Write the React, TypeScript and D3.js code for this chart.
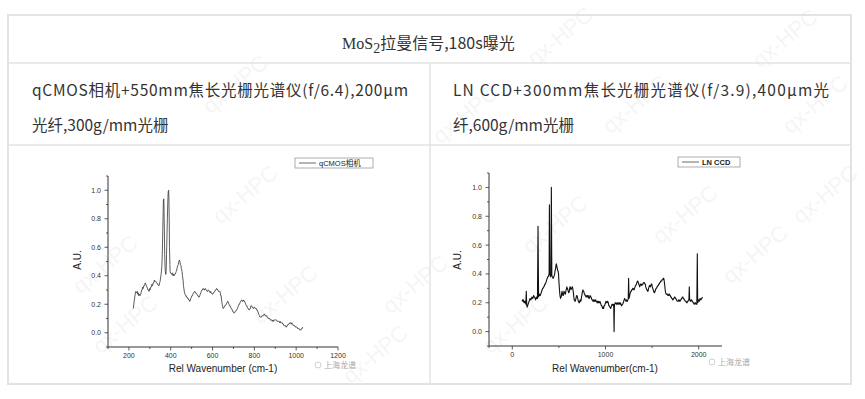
import React from 'react';
import * as d3 from 'd3';

// ---- Data ----
const qcmosX = [221,226,230,233,237,240,242,245,247,250,253,256,258,261,263,266,268,271,275,278,281,284,286,289,291,294,296,299,301,304,307,310,313,316,319,322,324,327,329,332,334,337,339,342,344,347,349,352,354,356,358,360,362,364,365,367,368,370,371,373,374,376,377,379,380,382,384,386,388,390,391,393,394,396,397,399,401,404,406,409,411,414,416,419,421,424,426,429,431,434,436,439,441,444,446,449,451,454,456,459,461,464,466,469,471,474,476,479,481,484,486,489,491,494,496,499,501,504,506,509,511,514,516,519,521,524,526,529,531,534,536,539,541,544,546,549,551,554,556,559,561,564,566,569,571,574,576,579,581,584,586,589,591,594,596,599,601,604,606,609,611,614,616,619,621,624,626,629,631,634,636,639,641,644,646,649,651,654,656,659,661,664,666,669,671,674,676,679,681,684,686,689,691,694,696,699,701,704,706,709,711,714,716,719,721,724,726,729,731,734,736,739,741,744,746,749,751,754,756,759,761,764,766,769,771,774,776,779,781,784,786,789,791,794,796,799,801,804,806,809,811,814,816,819,821,824,826,829,831,834,836,839,841,844,846,849,851,854,856,859,861,864,866,869,871,874,876,879,881,884,886,889,891,894,896,899,901,904,906,909,911,914,916,919,921,924,926,929,931,934,936,939,941,944,946,949,951,954,956,959,961,964,966,969,971,974,976,979,981,984,986,989,991,994,996,999,1001,1004,1006,1009,1011,1014,1016,1019,1021,1024,1026,1029,1031,1034,1036,1039,1041,1044,1046];
const qcmosY = [0.17,0.23,0.27,0.29,0.28,0.29,0.27,0.28,0.26,0.27,0.26,0.27,0.28,0.30,0.30,0.32,0.31,0.33,0.33,0.35,0.34,0.33,0.32,0.31,0.30,0.30,0.29,0.31,0.30,0.32,0.32,0.34,0.33,0.35,0.35,0.37,0.36,0.36,0.36,0.35,0.35,0.34,0.34,0.33,0.33,0.35,0.36,0.39,0.41,0.44,0.47,0.58,0.72,0.86,0.93,0.94,0.85,0.68,0.55,0.46,0.43,0.41,0.41,0.47,0.55,0.68,0.80,0.92,0.99,1.00,0.96,0.78,0.60,0.48,0.43,0.42,0.42,0.41,0.41,0.42,0.40,0.41,0.40,0.41,0.41,0.42,0.43,0.44,0.46,0.47,0.48,0.50,0.51,0.50,0.48,0.47,0.45,0.43,0.40,0.37,0.33,0.30,0.28,0.27,0.26,0.26,0.25,0.25,0.24,0.24,0.23,0.23,0.22,0.23,0.24,0.25,0.26,0.26,0.27,0.28,0.28,0.29,0.29,0.28,0.28,0.27,0.27,0.26,0.26,0.25,0.25,0.26,0.27,0.28,0.29,0.30,0.30,0.31,0.31,0.30,0.30,0.31,0.31,0.30,0.30,0.29,0.29,0.30,0.30,0.29,0.29,0.28,0.29,0.28,0.28,0.27,0.27,0.28,0.28,0.29,0.29,0.30,0.30,0.31,0.31,0.30,0.30,0.29,0.29,0.29,0.29,0.26,0.26,0.22,0.20,0.18,0.17,0.18,0.18,0.19,0.19,0.20,0.20,0.21,0.22,0.22,0.21,0.20,0.19,0.19,0.18,0.17,0.17,0.16,0.15,0.15,0.14,0.14,0.14,0.15,0.15,0.16,0.16,0.17,0.18,0.19,0.20,0.20,0.21,0.22,0.22,0.23,0.23,0.22,0.22,0.23,0.22,0.22,0.21,0.20,0.19,0.19,0.18,0.17,0.17,0.16,0.16,0.17,0.17,0.19,0.19,0.18,0.18,0.17,0.17,0.18,0.18,0.17,0.17,0.17,0.16,0.16,0.15,0.14,0.13,0.12,0.11,0.11,0.11,0.11,0.12,0.12,0.12,0.12,0.13,0.13,0.12,0.12,0.12,0.12,0.11,0.11,0.10,0.10,0.10,0.10,0.09,0.09,0.09,0.09,0.08,0.09,0.08,0.09,0.09,0.09,0.09,0.09,0.09,0.08,0.08,0.08,0.08,0.08,0.07,0.08,0.07,0.07,0.07,0.07,0.06,0.06,0.05,0.05,0.05,0.05,0.04,0.04,0.05,0.05,0.06,0.06,0.06,0.07,0.07,0.07,0.06,0.07,0.06,0.06,0.05,0.05,0.05,0.05,0.04,0.04,0.04,0.04,0.03,0.03,0.03,0.03,0.02,0.02,0.02,0.02,0.03,0.03,0.04];

const lnccdX = [104,110,115,120,125,130,135,140,145,150,155,160,165,170,175,180,185,190,195,200,205,210,215,220,225,230,235,240,245,250,255,260,265,270,276,282,286,290,295,300,305,310,315,320,325,330,335,340,345,350,355,360,365,370,375,380,385,390,395,398,402,406,410,414,419,424,428,432,436,440,445,450,455,458,462,465,469,472,476,478,482,485,489,492,496,500,505,510,514,518,522,525,529,533,537,540,544,548,552,555,559,563,567,570,574,578,582,585,589,592,596,600,604,608,612,615,619,622,626,630,634,638,642,645,649,653,657,660,664,668,672,675,679,683,687,690,694,698,702,705,709,712,716,720,724,728,732,735,739,742,746,750,754,758,762,766,770,774,778,782,786,790,794,798,802,806,810,814,818,822,826,830,835,840,845,850,855,860,865,870,875,880,885,890,895,900,905,910,915,920,925,930,935,940,945,950,955,960,965,970,975,980,985,990,995,1000,1005,1010,1015,1020,1025,1030,1035,1040,1045,1050,1055,1060,1065,1070,1075,1080,1084,1088,1092,1096,1100,1105,1110,1115,1120,1125,1130,1135,1140,1145,1150,1155,1160,1165,1170,1175,1180,1185,1190,1195,1200,1205,1210,1215,1220,1225,1230,1235,1240,1244,1248,1252,1257,1262,1267,1272,1277,1282,1287,1292,1297,1302,1307,1312,1317,1322,1327,1332,1337,1342,1347,1352,1357,1362,1367,1372,1377,1382,1387,1392,1397,1402,1407,1412,1417,1422,1427,1432,1437,1442,1447,1452,1457,1462,1467,1472,1477,1482,1487,1492,1497,1502,1507,1512,1517,1522,1527,1532,1537,1542,1547,1552,1557,1562,1567,1572,1577,1582,1587,1592,1597,1602,1607,1612,1616,1620,1624,1628,1632,1636,1640,1645,1650,1655,1660,1665,1670,1675,1680,1685,1690,1695,1700,1705,1710,1715,1720,1725,1730,1735,1740,1745,1750,1755,1760,1765,1770,1775,1780,1785,1790,1795,1800,1805,1810,1815,1820,1825,1830,1835,1840,1845,1850,1855,1860,1865,1870,1875,1880,1885,1890,1895,1899,1903,1907,1910,1915,1920,1925,1930,1935,1940,1945,1950,1955,1960,1965,1970,1975,1980,1985,1989,1993,1997,2000,2005,2010,2015,2020,2025,2030,2035,2040,2045,2050,2057];
const lnccdY = [0.21,0.22,0.21,0.22,0.20,0.21,0.20,0.21,0.19,0.28,0.18,0.17,0.18,0.19,0.20,0.21,0.22,0.23,0.22,0.22,0.23,0.24,0.23,0.23,0.24,0.25,0.24,0.24,0.23,0.22,0.23,0.24,0.23,0.23,0.73,0.24,0.25,0.26,0.25,0.25,0.26,0.27,0.28,0.29,0.30,0.30,0.31,0.31,0.32,0.33,0.33,0.34,0.35,0.36,0.37,0.38,0.38,0.39,0.40,0.88,0.40,0.39,0.38,0.39,1.00,0.39,0.38,0.38,0.37,0.37,0.38,0.39,0.40,0.42,0.43,0.44,0.46,0.47,0.46,0.45,0.44,0.43,0.42,0.42,0.40,0.35,0.30,0.26,0.24,0.23,0.24,0.24,0.26,0.28,0.27,0.26,0.25,0.25,0.27,0.28,0.27,0.27,0.26,0.26,0.28,0.29,0.30,0.31,0.30,0.30,0.29,0.28,0.27,0.27,0.28,0.30,0.31,0.31,0.30,0.29,0.30,0.30,0.31,0.31,0.30,0.28,0.26,0.24,0.22,0.22,0.21,0.21,0.22,0.23,0.24,0.25,0.25,0.24,0.23,0.22,0.21,0.21,0.20,0.20,0.21,0.22,0.22,0.21,0.22,0.24,0.25,0.27,0.28,0.29,0.28,0.28,0.27,0.26,0.26,0.25,0.25,0.24,0.24,0.25,0.24,0.25,0.24,0.25,0.24,0.23,0.23,0.24,0.25,0.24,0.24,0.23,0.22,0.22,0.21,0.22,0.21,0.21,0.22,0.21,0.22,0.21,0.21,0.20,0.21,0.20,0.21,0.20,0.20,0.21,0.20,0.19,0.18,0.18,0.17,0.16,0.17,0.16,0.18,0.18,0.19,0.20,0.21,0.20,0.20,0.21,0.21,0.20,0.18,0.18,0.17,0.17,0.16,0.17,0.18,0.19,0.19,0.18,0.18,0.19,0.00,0.19,0.19,0.20,0.20,0.19,0.19,0.20,0.19,0.20,0.19,0.19,0.20,0.19,0.20,0.19,0.18,0.18,0.19,0.19,0.20,0.21,0.22,0.23,0.22,0.22,0.21,0.22,0.21,0.21,0.22,0.23,0.37,0.23,0.24,0.26,0.27,0.28,0.28,0.29,0.29,0.30,0.30,0.29,0.29,0.30,0.31,0.32,0.32,0.33,0.34,0.35,0.35,0.34,0.33,0.32,0.31,0.32,0.33,0.33,0.32,0.32,0.33,0.33,0.34,0.34,0.34,0.33,0.33,0.31,0.30,0.29,0.29,0.28,0.28,0.30,0.31,0.32,0.32,0.31,0.32,0.33,0.33,0.31,0.30,0.29,0.28,0.27,0.27,0.28,0.29,0.30,0.30,0.31,0.31,0.32,0.32,0.33,0.33,0.34,0.34,0.35,0.35,0.35,0.36,0.36,0.36,0.37,0.37,0.36,0.34,0.32,0.29,0.27,0.26,0.26,0.26,0.26,0.25,0.25,0.26,0.26,0.25,0.25,0.24,0.24,0.23,0.23,0.22,0.22,0.23,0.23,0.24,0.24,0.23,0.23,0.22,0.22,0.21,0.21,0.21,0.22,0.22,0.21,0.21,0.22,0.22,0.23,0.23,0.24,0.24,0.23,0.23,0.22,0.22,0.21,0.21,0.21,0.20,0.20,0.21,0.21,0.22,0.22,0.31,0.22,0.22,0.21,0.21,0.22,0.22,0.21,0.21,0.20,0.20,0.19,0.19,0.20,0.20,0.19,0.19,0.19,0.54,0.20,0.21,0.22,0.22,0.21,0.22,0.23,0.22,0.22,0.23,0.23,0.24];

const leftXTicks = [200, 400, 600, 800, 1000, 1200];
const leftXMinor = [100, 300, 500, 700, 900, 1100];
const rightXTicks = [0, 1000, 2000];
const rightXMinor = [-250, 500, 1500];
const yTicks = [0, 0.2, 0.4, 0.6, 0.8, 1.0];
const yMinor = [-0.1, 0.1, 0.3, 0.5, 0.7, 0.9, 1.1];

const titleMain = '拉曼信号,180s曝光';
const leftLine1 = 'qCMOS相机+550mm焦长光栅光谱仪(f/6.4),200µm';
const leftLine2 = '光纤,300g/mm光栅';
const rightLine1 = 'LN CCD+300mm焦长光栅光谱仪(f/3.9),400µm光';
const rightLine2 = '纤,600g/mm光栅';

const CJK = '"Noto Sans CJK SC", "Noto Sans", sans-serif';
const ARIAL = '"Liberation Sans", Arial, sans-serif';

type ChartProps = {
  xs: number[]; ys: number[];
  xDomain: [number, number]; xRange: [number, number];
  yRange: [number, number];
  majorX: number[]; minorX: number[];
  xTitle: string; xTitleX: number;
  yTitleX: number;
  legendBox: [number, number, number, number];
  legendText: string; legendBold?: boolean;
  stroke: string; sw: number;
};

function Chart(p: ChartProps) {
  const x = d3.scaleLinear().domain(p.xDomain).range(p.xRange);
  const y = d3.scaleLinear().domain([-0.1, 1.1]).range(p.yRange);
  const pts = p.xs.map((v, i) => [v, p.ys[i]] as [number, number]);
  const line = d3.line<[number, number]>().x(d => x(d[0])).y(d => y(d[1]));
  const [ax0, ax1] = p.xRange;
  const [yb, yt] = p.yRange;
  const [lx, ly, lw, lh] = p.legendBox;
  return (
    <g>
      <line x1={ax0} x2={ax0} y1={yt} y2={yb} stroke="#333" strokeWidth={1} />
      <line x1={ax0} x2={ax1} y1={yb} y2={yb} stroke="#333" strokeWidth={1} />
      {p.majorX.map(t => (
        <g key={'mx' + t}>
          <line x1={x(t)} x2={x(t)} y1={yb} y2={yb + 3.5} stroke="#333" strokeWidth={0.8} />
          <text x={x(t)} y={yb + 11} fontSize={7} fill="#333" textAnchor="middle" fontFamily={ARIAL}>{t}</text>
        </g>
      ))}
      {p.minorX.map(t => (
        <line key={'nx' + t} x1={x(t)} x2={x(t)} y1={yb} y2={yb + 2} stroke="#333" strokeWidth={0.8} />
      ))}
      {yTicks.map(t => (
        <g key={'my' + t}>
          <line x1={ax0 - 3.5} x2={ax0} y1={y(t)} y2={y(t)} stroke="#333" strokeWidth={0.8} />
          <text x={ax0 - 7} y={y(t) + 2.5} fontSize={7} fill="#333" textAnchor="end" fontFamily={ARIAL}>{t.toFixed(1)}</text>
        </g>
      ))}
      {yMinor.map(t => (
        <line key={'ny' + t} x1={ax0 - 2} x2={ax0} y1={y(t)} y2={y(t)} stroke="#333" strokeWidth={0.8} />
      ))}
      <path d={line(pts) || ''} fill="none" stroke={p.stroke} strokeWidth={p.sw} strokeLinejoin="round" />
      <text x={p.xTitleX} y={372} fontSize={10} fill="#222" textAnchor="middle" fontFamily={ARIAL}>{p.xTitle}</text>
      <text transform={`translate(${p.yTitleX},260) rotate(-90)`} fontSize={10} fill="#222" textAnchor="middle" fontFamily={ARIAL}>A.U.</text>
      <rect x={lx} y={ly} width={lw} height={lh} fill="#fff" stroke="#999" strokeWidth={0.8} />
      <line x1={lx + 4} x2={lx + 21} y1={ly + lh / 2} y2={ly + lh / 2} stroke="#444" strokeWidth={0.8} />
      <text x={lx + 24} y={ly + lh / 2 + 2.6} fontSize={7.5} fill="#222" fontWeight={p.legendBold ? 'bold' : 'normal'} fontFamily={`${ARIAL}, "Noto Sans CJK SC"`}>{p.legendText}</text>
    </g>
  );
}

const marks: [number, number][] = [
  [565, 42], [790, 44], [820, 110], [250, 200], [110, 270], [640, 110], [470, 120], [130, 330],
  [290, 300], [240, 90], [520, 330], [760, 260], [690, 220], [830, 200], [420, 290], [560, 230], [380, 360]
];

export default function App() {
  const border = '#e3e3e3';
  return (
    <svg width={865} height={399} style={{ position: 'absolute', left: 0, top: 0, background: '#fff' }}>
      <rect x={0} y={0} width={865} height={399} fill="#fff" />
      {/* watermarks */}
      {marks.map(([mx, my], i) => (
        <text key={i} transform={`translate(${mx},${my}) rotate(-40)`} fontSize={22} fill="#000" opacity={0.035} fontFamily={ARIAL} textAnchor="middle">qx-HPC</text>
      ))}
      {/* table */}
      <rect x={8} y={15} width={843} height={369} fill="none" stroke={border} strokeWidth={2} />
      <line x1={8} x2={851} y1={63} y2={63} stroke={border} strokeWidth={1.5} />
      <line x1={8} x2={851} y1={145} y2={145} stroke={border} strokeWidth={1.5} />
      <line x1={430} x2={430} y1={63} y2={384} stroke={border} strokeWidth={1.5} />
      {/* title */}
      <text x={342} y={49} fontSize={16} fill="#333">
        <tspan fontFamily='"Liberation Serif", "DejaVu Serif", serif' fontSize={16}>MoS</tspan>
        <tspan fontFamily='"Liberation Serif", serif' dy={4} fontSize={14}>2</tspan>
        <tspan fontFamily={CJK} dy={-4}>{titleMain}</tspan>
      </text>
      <text x={32} y={96} fontSize={15.5} fill="#333" fontFamily={CJK} textLength={376} lengthAdjust="spacing">{leftLine1}</text>
      <text x={32} y={131} fontSize={15.5} fill="#333" fontFamily={CJK}>{leftLine2}</text>
      <text x={453} y={96} fontSize={15.5} fill="#333" fontFamily={CJK} textLength={376} lengthAdjust="spacing">{rightLine1}</text>
      <text x={453} y={131} fontSize={15.5} fill="#333" fontFamily={CJK}>{rightLine2}</text>
      {/* charts */}
      <Chart xs={qcmosX} ys={qcmosY} xDomain={[100, 1200]} xRange={[108, 338]} yRange={[347, 176]}
        majorX={leftXTicks} minorX={leftXMinor} xTitle="Rel Wavenumber (cm-1)" xTitleX={223} yTitleX={81}
        legendBox={[295, 158, 78, 10]} legendText="qCMOS相机" stroke="#333" sw={0.8} />
      <Chart xs={lnccdX} ys={lnccdY} xDomain={[-250, 2250]} xRange={[489, 722]} yRange={[346, 173]}
        majorX={rightXTicks} minorX={rightXMinor} xTitle="Rel Wavenumber(cm-1)" xTitleX={605} yTitleX={461}
        legendBox={[678, 157, 62, 10]} legendText="LN CCD" legendBold stroke="#111" sw={1.1} />
      {/* logo marks */}
      <circle cx={318} cy={365} r={3} fill="none" stroke="#bbb" strokeWidth={0.7} />
      <text x={324} y={368} fontSize={8} fill="#aaa" fontFamily={CJK}>上海龙谱</text>
      <circle cx={712} cy={362} r={3} fill="none" stroke="#bbb" strokeWidth={0.7} />
      <text x={718} y={365} fontSize={8} fill="#aaa" fontFamily={CJK}>上海龙谱</text>
    </svg>
  );
}
